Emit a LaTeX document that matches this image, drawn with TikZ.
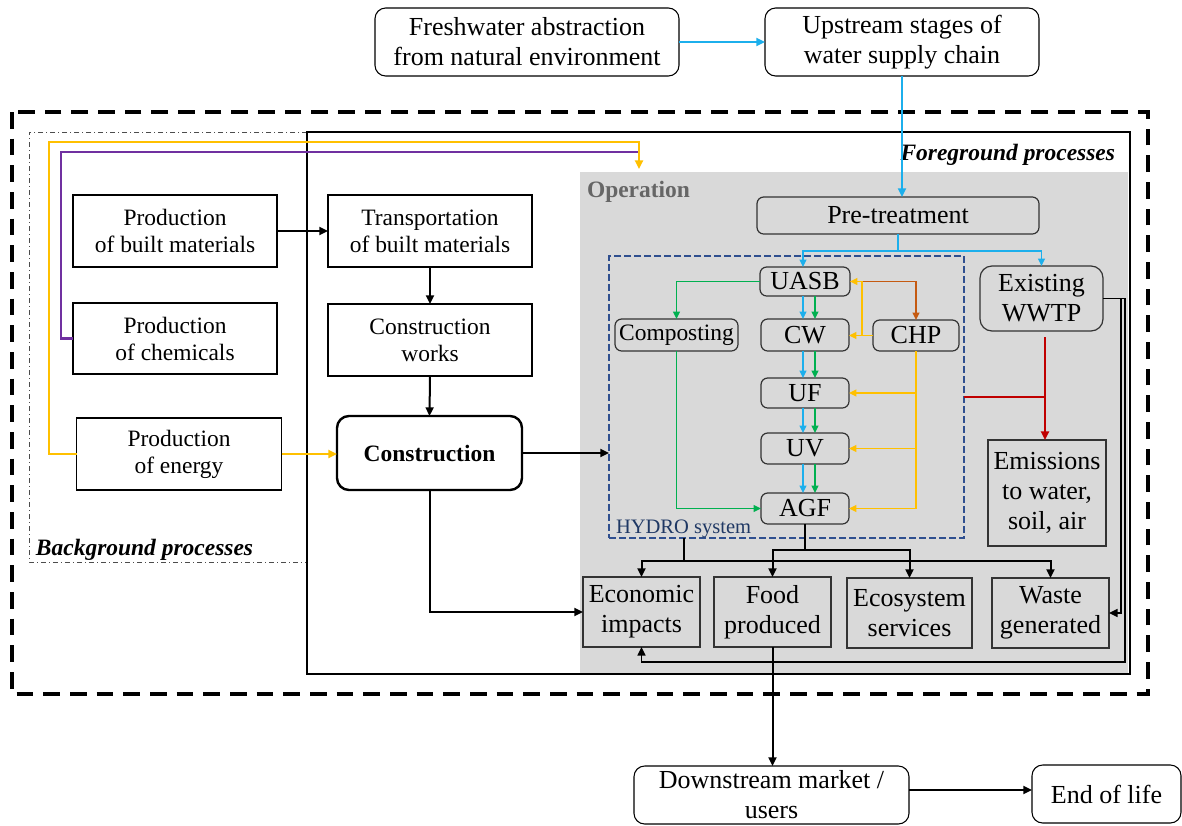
\documentclass[tikz,border=0pt]{standalone}
\usepackage{fontspec}
\setmainfont{Liberation Serif}
\usetikzlibrary{arrows.meta,calc}
\definecolor{cblue}{HTML}{1CAFEC}
\definecolor{cyel}{HTML}{FFC000}
\definecolor{cpur}{HTML}{7030A0}
\definecolor{cgreen}{HTML}{00B050}
\definecolor{corange}{HTML}{C55A11}
\definecolor{cred}{HTML}{C00000}
\definecolor{cnavy}{HTML}{2F4F8F}
\definecolor{cnavytxt}{HTML}{1F3864}
\definecolor{opgray}{HTML}{D9D9D9}
\newcommand\fbig{\fontsize{19.5}{22.5}\selectfont}
\newcommand\fsmall{\fontsize{17.6}{20.25}\selectfont}
\begin{document}
\begin{tikzpicture}[x=0.75pt,y=-0.75pt,
  sz/.style 2 args={minimum width=#1*0.75pt, minimum height=#2*0.75pt},
  nb/.style={inner sep=0pt, outer sep=0pt, align=center},
  topbox/.style={nb, draw, rounded corners=8pt, line width=0.8pt, fill=white, font=\fbig},
  bgbox/.style={nb, draw, line width=0.8pt, fill=white, font=\fsmall},
  opbox/.style={nb, draw=black!80, rounded corners=5pt, line width=0.9pt, font=\fbig},
  outbox/.style={nb, draw=black!80, line width=0.9pt, font=\fbig},
  tip/.style={-{Triangle[length=6.5pt,width=6pt]}},
  stip/.style={-{Triangle[length=5.5pt,width=5pt]}},
  blk/.style={line width=1.5pt, black},
  blk2/.style={line width=1.2pt, black},
  bl/.style={line width=1.4pt, cblue},
  bl2/.style={line width=1.1pt, cblue},
  gl/.style={line width=1.1pt, cgreen},
  ol/.style={line width=1.1pt, corange},
  yl/.style={line width=2.1pt, cyel},
  yl2/.style={line width=1.2pt, cyel},
  pl/.style={line width=2.1pt, cpur},
  rl/.style={line width=1.8pt, cred}
]
\useasboundingbox (0,0) rectangle (1182,825);

% containers
\draw[line width=2.6pt, dash pattern=on 12.5pt off 7.5pt] (12,112) rectangle (1148,694);
\draw[line width=0.6pt, black!70, dash pattern=on 4pt off 2pt on 1pt off 2pt] (307,132) -- (29,132) -- (29,562) -- (307,562);
\draw[line width=0.9pt] (307,132) rectangle (1130,674);
\fill[opgray] (580,172) rectangle (1128,673);
\node[nb, draw=cnavy, line width=0.9pt, dash pattern=on 5pt off 2.5pt, sz={355}{282}] (hydro) at (786.5,397) {};

% labels
\node[nb, anchor=base west, font=\fsmall\bfseries\itshape] (bglab) at (36,555) {Background processes};
\node[nb, anchor=base east, font=\fsmall\bfseries\itshape] (fglab) at (1115,160) {Foreground processes};
\node[nb, anchor=base west, font=\fsmall\bfseries, text=black!60] (oplab) at (587,197) {Operation};
\node[nb, anchor=base west, font=\fontsize{15.4}{18}\selectfont, text=cnavytxt] (hylab) at (616,533) {HYDRO system};

% top boxes
\node[topbox, sz={304}{68}] (fresh) at (527,42) {Freshwater abstraction\\from natural environment};
\node[topbox, sz={274}{68}] (up) at (902,42) {Upstream stages of\\water supply chain};

% background boxes
\node[bgbox, sz={204}{72}] (built) at (175,231) {Production\\of built materials};
\node[bgbox, sz={204}{71}] (chem) at (175,338.5) {Production\\of chemicals};
\node[bgbox, sz={205}{72}] (energy) at (179,454) {Production\\of energy};

% construction chain
\node[bgbox, sz={204}{72}] (trans) at (430,231) {Transportation\\of built materials};
\node[bgbox, sz={204}{72}] (works) at (430,340) {Construction\\works};
\node[bgbox, rounded corners=9pt, line width=1.8pt, sz={185}{74}, font=\fsmall\bfseries] (cons) at (429.5,453) {Construction};

% operation
\node[opbox, sz={282}{37}] (pre) at (898,215.5) {Pre-treatment};
\node[opbox, sz={90}{29}] (uasb) at (805,281.5) {UASB};
\node[opbox, sz={88}{32}] (cw) at (805,335) {CW};
\node[opbox, sz={88}{30}] (uf) at (805,393) {UF};
\node[opbox, sz={88}{31}] (uv) at (805,448.5) {UV};
\node[opbox, sz={88}{31}] (agf) at (805,508.5) {AGF};
\node[opbox, sz={123}{32}, font=\fsmall] (comp) at (676.5,335) {Composting};
\node[opbox, sz={86}{31}] (chp) at (916,335.5) {CHP};
\node[opbox, rounded corners=9pt, sz={123}{65}] (wwtp) at (1041.5,298.5) {Existing\\WWTP};
\node[outbox, sz={118}{106}] (emis) at (1047,493) {Emissions\\to water,\\soil, air};

% outputs
\node[outbox, sz={117}{70}] (econ) at (641.5,612) {Economic\\impacts};
\node[outbox, sz={117}{70}] (food) at (772.5,612) {Food\\produced};
\node[outbox, sz={125}{70}] (eco) at (909.5,613) {Ecosystem\\services};
\node[outbox, sz={117}{70}] (waste) at (1050.5,613) {Waste\\generated};

% downstream
\node[topbox, sz={275}{58}] (down) at (771.5,795) {Downstream market /\\users};
\node[topbox, sz={149}{58}] (end) at (1106.5,794) {End of life};

% ---- connectors ----
\draw[bl,tip] (fresh.east) -- (up.west);
\draw[bl,tip] (up.south) -- (up.south |- pre.north);
\draw[bl2] (pre.south) -- ++(0,17) coordinate (pj);
\draw[bl2,stip] (pj) -| ($(uasb.north)+(-2,0)$);
\draw[bl2,stip] (pj) -| (wwtp.north);

\draw[blk,tip] (built.east) -- (trans.west);
\draw[blk,tip] (trans.south) -- (works.north);
\draw[blk,tip] (works.south) -- (cons.north);
\draw[yl,tip] (energy.east) -- (energy.east -| cons.west);
\draw[blk,tip] (cons.east) -- (cons.east -| hydro.west);
\draw[blk,tip] (cons.south) |- (econ.west);

\draw[pl] (chem.west) -| (61,152) -- (639,152);
\draw[yl,tip] (energy.west) -| (49,142) -| (639,169);

% hydro internal
\foreach \a/\b in {uasb/cw, cw/uf, uf/uv, uv/agf} {
  \draw[bl2,stip] ($(\a.south)+(-2,0)$) -- ($(\b.north)+(-2,0)$);
  \draw[gl,stip] ($(\a.south)+(10,0)$) -- ($(\b.north)+(10,0)$);
}
\draw[gl,stip] (uasb.west) -| (comp.north);
\draw[gl,stip] (comp.south) |- (agf.west);
\draw[ol,stip] (uasb.east) -| (chp.north);
\draw[yl2,stip] (chp.west) -- (chp.west -| cw.east);
\draw[yl2,stip] ($(chp.west)+(-11,0)$) |- (uasb.east);
\draw[yl2] (chp.south) -- (chp.south |- agf.east);
\foreach \t in {uf,uv,agf} {
  \draw[yl2,stip] (chp.south |- \t.east) -- (\t.east);
}

% emissions
\coordinate (rj) at (1045,337);
\draw[rl,tip] (rj) -- (rj |- emis.north);
\draw[rl] (hydro.east) -- (hydro.east -| rj);

% outputs
\draw[blk] ($(hydro.south west)!0.211!(hydro.south east)$) -- ++(0,23) coordinate (hj);
\draw[blk,tip] (hj) -| (econ.north);
\draw[blk,tip] (hj) -| (waste.north);
\draw[blk] (agf.south) -- ++(0,26) coordinate (aj);
\draw[blk,tip] (aj) -| (food.north);
\draw[blk,tip] (aj) -| (eco.north);

\draw[blk2,tip] (wwtp.east) -- (1121,298.5) |- (waste.east);
\draw[blk2,tip] (wwtp.east) -- (1125,298.5) -- (1125,662) -| (econ.south);

\draw[blk,tip] (food.south) -- (food.south |- down.north);
\draw[blk,tip] ($(down.east)+(0,-5)$) -- ($(end.west)+(0,-4)$);
\end{tikzpicture}
\end{document}
